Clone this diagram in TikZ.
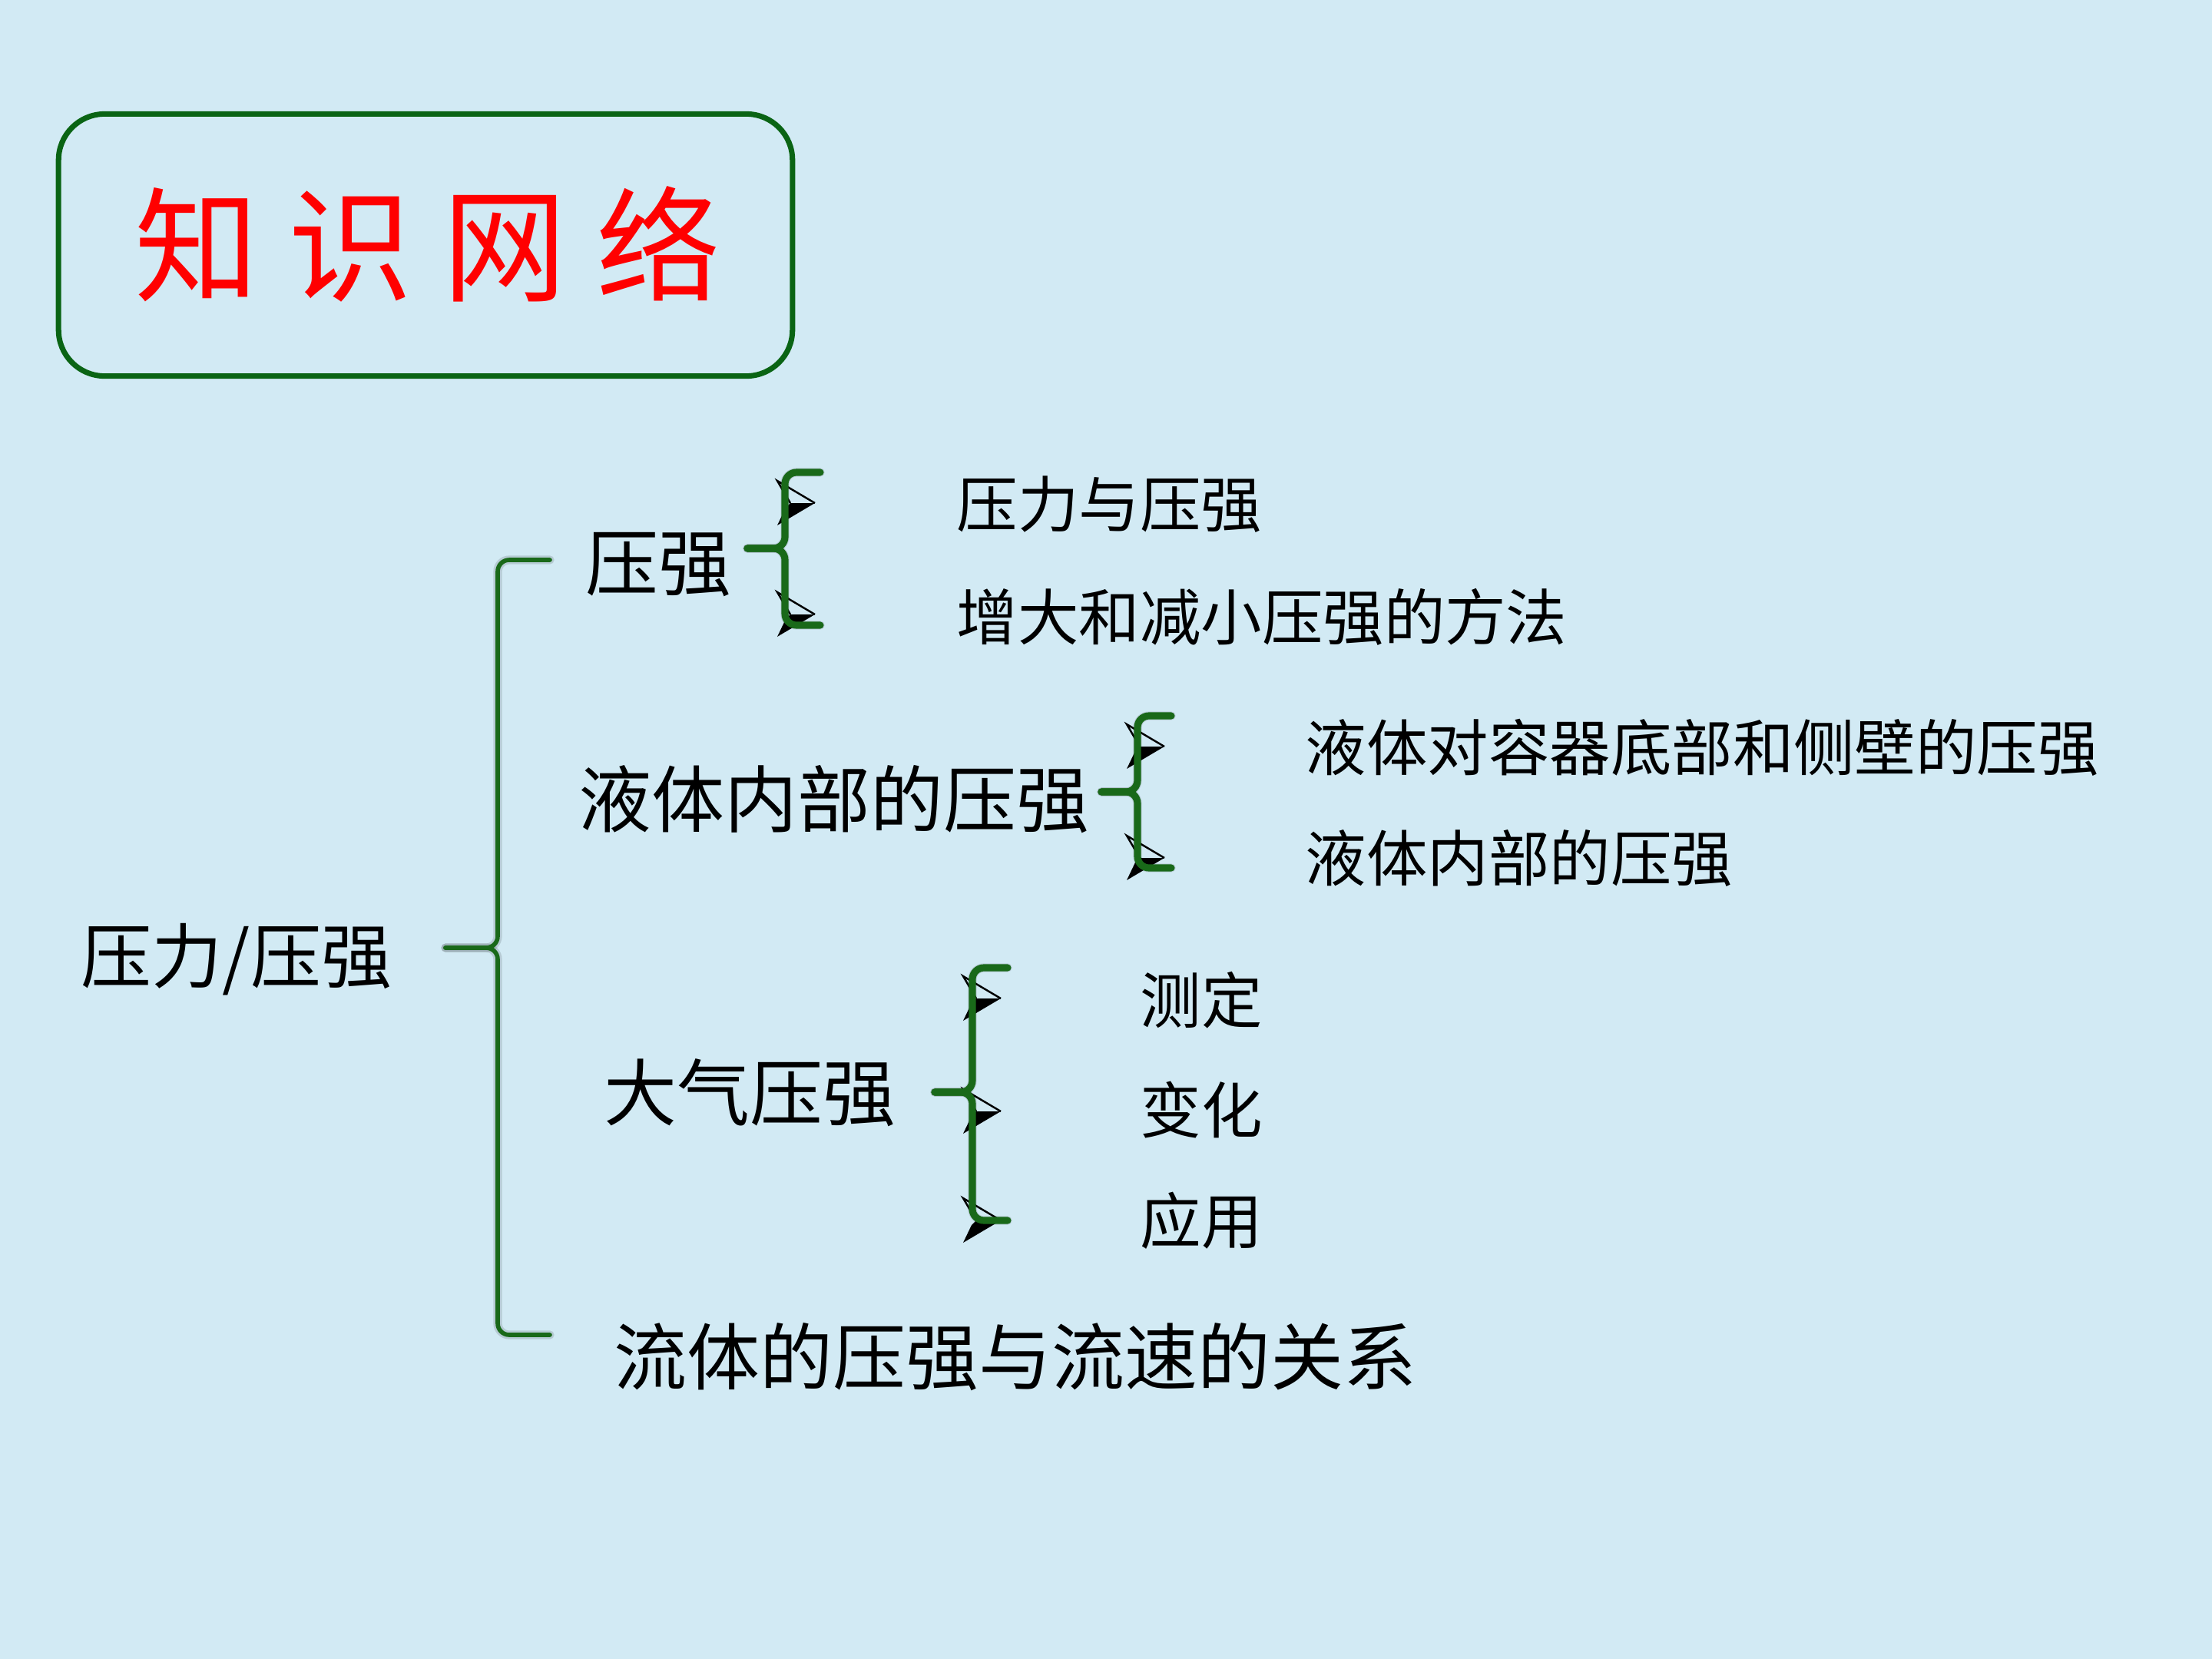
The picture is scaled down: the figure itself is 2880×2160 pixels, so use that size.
\documentclass[tikz,border=0pt]{standalone}
\usepackage{fontspec}
\setmainfont{Noto Sans CJK SC}
\definecolor{bgblue}{RGB}{210,234,244}
\definecolor{titlegreen}{RGB}{10,100,20}
\definecolor{braceg}{RGB}{25,105,25}
\begin{document}
\begin{tikzpicture}[x=0.01cm,y=-0.01cm,
  lbl/.style={anchor=west, inner sep=0pt, font=\fontsize{27}{31}\selectfont},
  sublbl/.style={anchor=west, inner sep=0pt, font=\fontsize{22.6}{26}\selectfont},
  arrowmark/.pic={
    \draw[black, line width=0.7pt, line join=miter] (-8,0) -- (-25,-29) -- (24,0);
    \fill[black] (-8,0) -- (24,0) -- (-25,29) -- (-14,6) -- cycle;
  },
  bracebig/.style={draw=braceg, line width=1.6pt, rounded corners=0.15cm, line cap=round},
  bracesmall/.style={draw=braceg, line width=2.6pt, rounded corners=0.15cm, line cap=round},
  braceshadow/.style={draw=black, opacity=0.13, line width=3.2pt, rounded corners=0.15cm, line cap=round}]
\fill[bgblue] (0,0) rectangle (2880,2160);
\useasboundingbox (0,0) rectangle (2880,2160);

% title
\node (title) [draw=titlegreen, line width=2pt, rounded corners=0.6cm,
  minimum width=9.55cm, minimum height=3.41cm, inner sep=0pt] at (554,319) {};
\node (titletext) [inner sep=0pt, text=red, font=\fontsize{46}{52}\selectfont] at (557,318)
  {知\hspace{11pt}识\hspace{11pt}网\hspace{11pt}络};

% labels
\node (root) [lbl, font=\fontsize{26.2}{30}\selectfont] at (105,1249) {压力/压强};
\node (a) [lbl] at (762,735) {压强};
\node (b) [lbl] at (753,1041) {液体内部的压强};
\node (c) [lbl] at (786,1423) {大气压强};
\node (d) [lbl] at (799,1767) {流体的压强与流速的关系};

\node (a1) [sublbl] at (1245,657) {压力与压强};
\node (a2) [sublbl] at (1245,803) {增大和减小压强的方法};
\node (b1) [sublbl] at (1699,973) {液体对容器底部和侧壁的压强};
\node (b2) [sublbl] at (1699,1117) {液体内部的压强};
\node (c1) [sublbl] at (1484,1302) {测定};
\node (c2) [sublbl] at (1484,1445) {变化};
\node (c3) [sublbl] at (1484,1589) {应用};

% bullet markers
\pic at (1037,655) {arrowmark};
\pic at (1037,800) {arrowmark};
\pic at (1492,972) {arrowmark};
\pic at (1492,1117) {arrowmark};
\pic at (1279,1300) {arrowmark};
\pic at (1279,1447) {arrowmark};
\pic at (1279,1589) {arrowmark};

% brace geometry
\coordinate (B0t) at (716,729);  \coordinate (B0v) at (648,729);
\coordinate (B0m) at (648,1234); \coordinate (B0tip) at (580,1234);
\coordinate (B0b) at (648,1738); \coordinate (B0e) at (716,1738);

\coordinate (B1t) at (1068,615);  \coordinate (B1v) at (1022,615);
\coordinate (B1m) at (1022,714);  \coordinate (B1tip) at (973,714);
\coordinate (B1b) at (1022,814);  \coordinate (B1e) at (1068,814);

\coordinate (B2t) at (1525,932);  \coordinate (B2v) at (1481,932);
\coordinate (B2m) at (1481,1031); \coordinate (B2tip) at (1434,1031);
\coordinate (B2b) at (1481,1130); \coordinate (B2e) at (1525,1130);

\coordinate (B3t) at (1312,1260); \coordinate (B3v) at (1266,1260);
\coordinate (B3m) at (1266,1422); \coordinate (B3tip) at (1217,1422);
\coordinate (B3b) at (1266,1589); \coordinate (B3e) at (1312,1589);

% shadows
\foreach \i in {0,1,2,3}{
  \begin{scope}[shift={(5,6)}]
  \draw[braceshadow] (B\i t) -- (B\i v) -- (B\i m) -- (B\i tip);
  \draw[braceshadow] (B\i tip) -- (B\i m) -- (B\i b) -- (B\i e);
  \end{scope}
}
% braces
\draw[bracebig] (B0t) -- (B0v) -- (B0m) -- (B0tip);
\draw[bracebig] (B0tip) -- (B0m) -- (B0b) -- (B0e);
\foreach \i in {1,2,3}{
  \draw[bracesmall] (B\i t) -- (B\i v) -- (B\i m) -- (B\i tip);
  \draw[bracesmall] (B\i tip) -- (B\i m) -- (B\i b) -- (B\i e);
}
\end{tikzpicture}
\end{document}
